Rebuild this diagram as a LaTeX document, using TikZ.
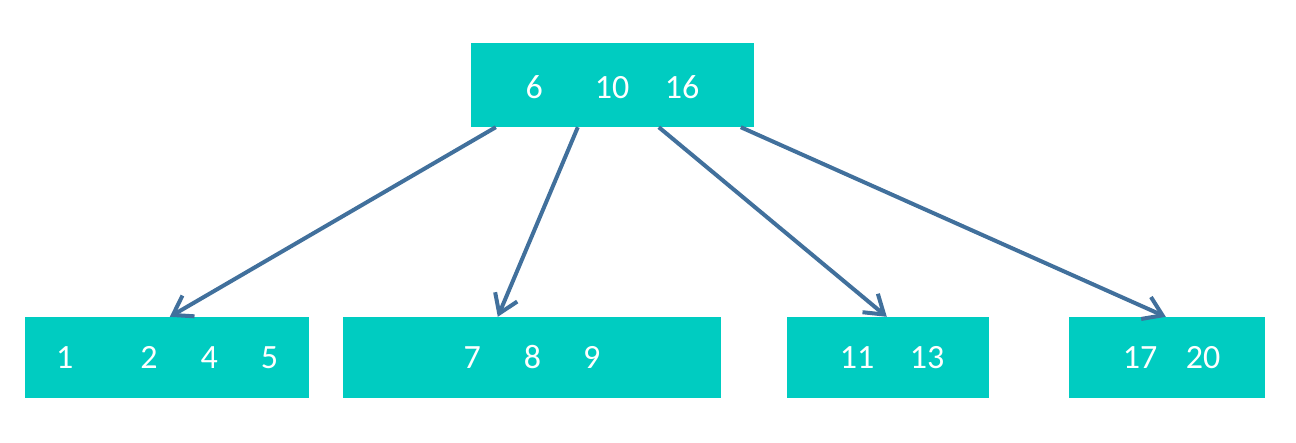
\documentclass[tikz,border=0pt]{standalone}
\usepackage{fontspec}
\setmainfont{Carlito}
\usepackage{xcolor}
\usepackage{tikz}
\usetikzlibrary{positioning, arrows.meta}

\definecolor{keyfill}{HTML}{00CCC1}
\definecolor{linkblue}{HTML}{41709C}

\begin{document}
\begin{tikzpicture}[
    x=1pt, y=-1pt,
    keybox/.style={rectangle, fill=keyfill, inner sep=0pt, text=white, minimum height=81pt, font=\fontsize{34}{40}\selectfont},
    link/.style={-{Straight Barb[length=18pt, width=24pt, line width=4pt]}, line width=4pt, draw=linkblue}
]
    \useasboundingbox (0,0) rectangle (1296,442);

    \node [keybox, minimum width=283pt, minimum height=84pt, text height=26pt, text depth=0pt] (root) at (612.5,85) {6\hspace{52pt}10\hspace{35.5pt}16};

    \node [keybox, minimum width=284pt] (leafa) at (167,357.5) {1\hspace{67pt}2\hspace{43pt}4\hspace{43pt}5};
    \node [keybox, minimum width=378pt] (leafb) at (532,357.5) {7\hspace{43pt}8\hspace{42pt}9\hspace{3pt}};
    \node [keybox, minimum width=202pt] (leafc) at (888,357.5) {\hspace{8pt}11\hspace{35.5pt}13};
    \node [keybox, minimum width=196pt] (leafd) at (1167,357.5) {\hspace{9pt}17\hspace{28.5pt}20};

    \draw [link] ([xshift=25pt]root.south west) -- ([xshift=145pt]leafa.north west);
    \draw [link] ([xshift=107pt]root.south west) -- ([xshift=155pt]leafb.north west);
    \draw [link] ([xshift=188pt]root.south west) -- ([xshift=100pt]leafc.north west);
    \draw [link] ([xshift=270pt]root.south west) -- ([xshift=97pt]leafd.north west);
\end{tikzpicture}
\end{document}
